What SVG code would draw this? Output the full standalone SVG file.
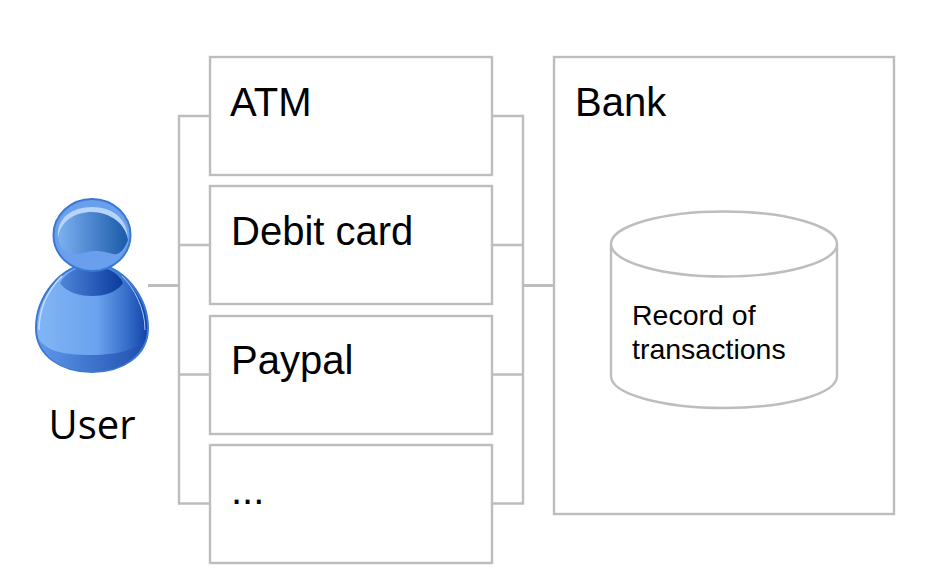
<svg xmlns="http://www.w3.org/2000/svg" width="932" height="574" viewBox="0 0 932 574">
<style>
.b{fill:#fff;stroke:#bdbdbd;stroke-width:2.400}
.c{fill:none;stroke:#bdbdbd;stroke-width:2.400}
.t{font-family:"Liberation Sans",Arial,sans-serif;font-size:40px;fill:#000}
.s{font-family:"Liberation Sans",Arial,sans-serif;font-size:28.500px;fill:#000}
</style>
<defs>
<linearGradient id="g1" x1="0" x2="1" y1="0" y2="0"><stop offset="0" stop-color="#82b6f5"/><stop offset=".55" stop-color="#6aa2ee"/><stop offset=".85" stop-color="#2f66c4"/><stop offset="1" stop-color="#0f3fa8"/></linearGradient>
<linearGradient id="g2" x1="0" x2="1" y1="0" y2="0"><stop offset="0" stop-color="#7db0f2"/><stop offset="1" stop-color="#1a5aa8"/></linearGradient>
<linearGradient id="g3" x1="0" x2="1" y1="0" y2="0"><stop offset="0" stop-color="#4f86da"/><stop offset="1" stop-color="#0a3a9e"/></linearGradient>
<linearGradient id="g4" x1="0" x2="1" y1="0" y2="0"><stop offset="0" stop-color="#5f97ea"/><stop offset="1" stop-color="#1f4fae"/></linearGradient>
</defs>
<g id="connectors">
<path class="c" d="M209 116H179V503.500H209M179 245H209M179 374.500H209"/>
<path class="c" d="M492 116H523V503.500H492M492 245H523M492 374.500H523"/>
<path class="c" style="stroke-width:3" d="M148 285.500H179M523 285.500H554"/>
</g>
<g id="atm"><rect class="b" x="210" y="57" width="282" height="118"/><text class="t" x="230" y="116">ATM</text></g>
<g id="debit"><rect class="b" x="210" y="186" width="282" height="118"/><text class="t" x="231" y="245">Debit card</text></g>
<g id="paypal"><rect class="b" x="210" y="316" width="282" height="118"/><text class="t" x="231" y="374">Paypal</text></g>
<g id="more"><rect class="b" x="210" y="445" width="282" height="118"/><text class="t" x="231" y="504">...</text></g>
<g id="bank"><rect class="b" x="554" y="57" width="340" height="457"/><text class="t" x="575" y="116">Bank</text></g>
<g id="record">
<path class="b" d="M611 244V376C611 394 662 408 724 408S837 394 837 376V244"/>
<ellipse class="b" cx="724" cy="244" rx="113" ry="32.500"/>
<text class="s"><tspan x="632" y="325">Record of</tspan><tspan x="632" y="358.500">transactions</tspan></text>
</g>
<g id="user">
<path d="M92 264C60 264 36 298 36 328C36 356 62 372 92 372S148 356 148 328C148 298 124 264 92 264Z" fill="url(#g1)" stroke="#3a78d2" stroke-width="2"/>
<path d="M38 338C48 366 70 371 92 371S134 366 146 338C140 346 125 355 92 355S46 350 38 338Z" fill="url(#g4)"/>
<path d="M60 283C66 272 78 266 92 266S118 272 123 283C116 293 104 296 92 296S67 293 60 283Z" fill="url(#g3)"/>
<path d="M39 330C39 306 50 288 62 276" fill="none" stroke="#c4dcfa" stroke-width="1.500"/>
<path d="M145 330C145 308 134 288 122 276" fill="none" stroke="#a9c9f5" stroke-width="1"/>
<ellipse cx="92" cy="235" rx="38.500" ry="36" fill="#6a9fee" stroke="#3a78d2" stroke-width="2"/>
<path d="M58 234C58 220 72 212 92 212S128 220 128 240C124 250 120 255 113 254C106 252 102 251 95 251C88 251 82 254 76 254C66 254 58 248 58 234Z" fill="url(#g2)"/>
<path d="M58 238C56 218 72 207 92 207S128 218 128 240C126 224 110 212 92 212S60 222 58 238Z" fill="#b7d5fa"/>
<text x="92" y="439" text-anchor="middle" style="font-family:'Open Sans','Noto Sans',sans-serif;font-size:40px;fill:#000">User</text>
</g>
</svg>
